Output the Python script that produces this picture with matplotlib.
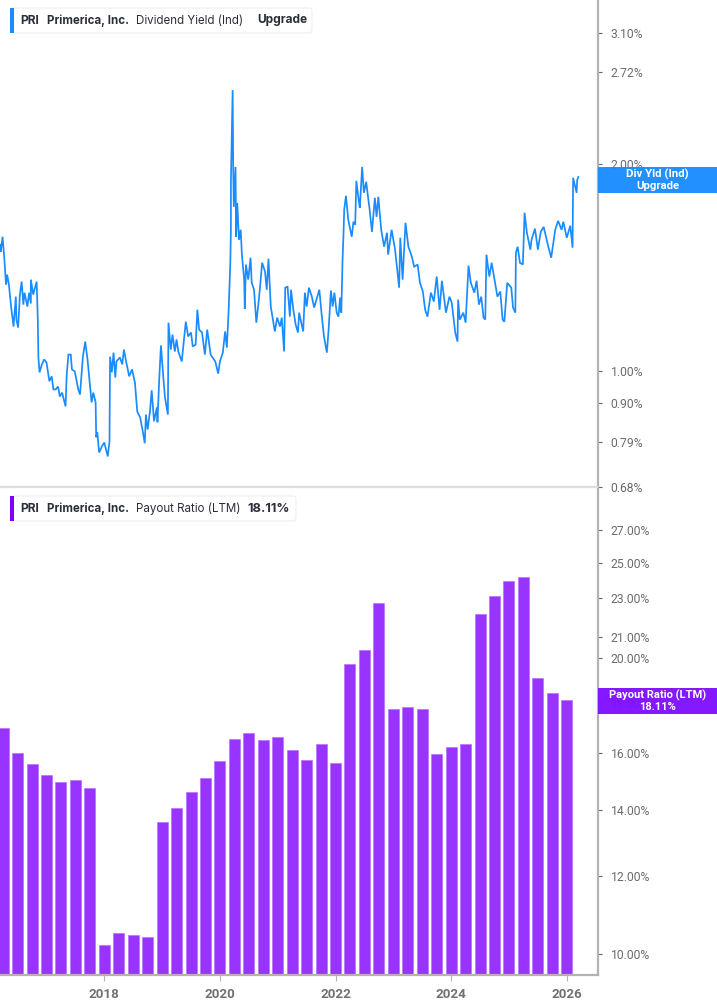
import matplotlib
matplotlib.use("Agg")
import matplotlib.pyplot as plt
from matplotlib.patches import FancyBboxPatch, Rectangle

W, H = 717, 1005

yield_years = [
    2016.20, 2016.21, 2016.24, 2016.27, 2016.30, 2016.32, 2016.35, 2016.39, 2016.43, 2016.47,
    2016.48, 2016.51, 2016.54, 2016.57, 2016.60, 2016.62, 2016.67, 2016.70, 2016.73, 2016.73,
    2016.77, 2016.83, 2016.85, 2016.86, 2016.88, 2016.92, 2016.96, 2017.00, 2017.05, 2017.09,
    2017.12, 2017.16, 2017.20, 2017.23, 2017.27, 2017.33, 2017.35, 2017.38, 2017.42, 2017.44,
    2017.49, 2017.55, 2017.58, 2017.61, 2017.63, 2017.67, 2017.71, 2017.74, 2017.78, 2017.81,
    2017.85, 2017.86, 2017.88, 2017.91, 2017.96, 2018.00, 2018.03, 2018.06, 2018.09, 2018.10,
    2018.13, 2018.16, 2018.19, 2018.21, 2018.27, 2018.31, 2018.34, 2018.38, 2018.40, 2018.43,
    2018.48, 2018.53, 2018.57, 2018.62, 2018.66, 2018.70, 2018.72, 2018.75, 2018.79, 2018.82,
    2018.86, 2018.91, 2018.92, 2018.95, 2018.98, 2019.02, 2019.05, 2019.10, 2019.11, 2019.15,
    2019.18, 2019.22, 2019.25, 2019.28, 2019.34, 2019.41, 2019.45, 2019.50, 2019.53, 2019.58,
    2019.61, 2019.64, 2019.69, 2019.74, 2019.78, 2019.84, 2019.92, 2019.97, 2020.00, 2020.05,
    2020.09, 2020.12, 2020.15, 2020.18, 2020.19, 2020.19, 2020.22, 2020.23, 2020.24, 2020.27,
    2020.28, 2020.30, 2020.33, 2020.36, 2020.38, 2020.42, 2020.43, 2020.45, 2020.49, 2020.53,
    2020.55, 2020.59, 2020.63, 2020.67, 2020.69, 2020.73, 2020.78, 2020.81, 2020.84, 2020.88,
    2020.95, 2020.99, 2021.04, 2021.07, 2021.11, 2021.13, 2021.17, 2021.21, 2021.23, 2021.27,
    2021.31, 2021.35, 2021.37, 2021.44, 2021.47, 2021.50, 2021.54, 2021.59, 2021.63, 2021.67,
    2021.72, 2021.76, 2021.80, 2021.85, 2021.88, 2021.92, 2021.95, 2021.98, 2022.02, 2022.05,
    2022.08, 2022.10, 2022.12, 2022.14, 2022.15, 2022.18, 2022.22, 2022.28, 2022.31, 2022.34,
    2022.36, 2022.40, 2022.42, 2022.46, 2022.49, 2022.53, 2022.59, 2022.63, 2022.68, 2022.71,
    2022.74, 2022.79, 2022.84, 2022.89, 2022.91, 2022.97, 2023.03, 2023.10, 2023.12, 2023.16,
    2023.21, 2023.26, 2023.32, 2023.36, 2023.42, 2023.46, 2023.51, 2023.55, 2023.59, 2023.65,
    2023.70, 2023.75, 2023.80, 2023.84, 2023.91, 2023.97, 2024.01, 2024.07, 2024.11, 2024.12,
    2024.15, 2024.21, 2024.25, 2024.30, 2024.34, 2024.40, 2024.44, 2024.48, 2024.52, 2024.56,
    2024.59, 2024.61, 2024.66, 2024.70, 2024.76, 2024.80, 2024.85, 2024.89, 2024.92, 2024.97,
    2025.04, 2025.07, 2025.11, 2025.12, 2025.15, 2025.19, 2025.24, 2025.27, 2025.31, 2025.37,
    2025.39, 2025.45, 2025.50, 2025.55, 2025.60, 2025.68, 2025.73, 2025.80, 2025.85, 2025.91,
    2025.94, 2026.00, 2026.06, 2026.10, 2026.11, 2026.15, 2026.17, 2026.18, 2026.20,
]
yield_values = [
    1.527, 1.492, 1.568, 1.462, 1.336, 1.382, 1.336, 1.238, 1.162, 1.284,
    1.189, 1.158, 1.293, 1.350, 1.250, 1.301, 1.242, 1.301, 1.255, 1.359,
    1.293, 1.350, 1.189, 1.048, 0.997, 1.024, 1.041, 1.031, 0.968, 0.984,
    0.942, 0.942, 0.951, 0.920, 0.932, 0.890, 0.990, 1.058, 1.058, 1.007,
    1.000, 0.942, 0.926, 0.997, 1.051, 1.105, 1.041, 0.980, 0.902, 0.932,
    0.902, 0.803, 0.816, 0.763, 0.779, 0.789, 0.771, 0.753, 0.792, 1.051,
    0.997, 1.065, 0.980, 1.034, 1.048, 1.024, 1.076, 1.031, 1.013, 0.984,
    1.007, 0.964, 0.875, 0.858, 0.824, 0.787, 0.866, 0.824, 0.875, 0.939,
    0.847, 0.887, 0.844, 0.974, 1.091, 0.984, 0.917, 0.866, 1.177, 1.076,
    1.131, 1.069, 1.113, 1.069, 1.034, 1.181, 1.124, 1.139, 1.087, 1.094,
    1.229, 1.150, 1.139, 1.058, 1.150, 1.058, 1.034, 0.993, 1.034, 1.065,
    1.143, 1.083, 1.221, 1.438, 1.605, 1.878, 2.559, 1.980, 1.733, 1.980,
    1.568, 1.756, 1.552, 1.605, 1.477, 1.359, 1.233, 1.429, 1.359, 1.462,
    1.345, 1.314, 1.177, 1.263, 1.314, 1.438, 1.396, 1.314, 1.457, 1.242,
    1.143, 1.197, 1.162, 1.197, 1.069, 1.323, 1.327, 1.201, 1.314, 1.229,
    1.170, 1.139, 1.217, 1.143, 1.301, 1.242, 1.323, 1.284, 1.238, 1.271,
    1.314, 1.209, 1.124, 1.065, 1.150, 1.310, 1.242, 1.301, 1.217, 1.201,
    1.280, 1.217, 1.438, 1.605, 1.716, 1.798, 1.660, 1.568, 1.649, 1.632,
    1.890, 1.774, 1.727, 1.980, 1.816, 1.884, 1.716, 1.594, 1.786, 1.676,
    1.792, 1.605, 1.517, 1.589, 1.477, 1.605, 1.502, 1.323, 1.563, 1.359,
    1.643, 1.517, 1.467, 1.419, 1.429, 1.345, 1.306, 1.229, 1.201, 1.301,
    1.263, 1.373, 1.229, 1.354, 1.217, 1.284, 1.259, 1.139, 1.105, 1.271,
    1.189, 1.217, 1.177, 1.424, 1.345, 1.301, 1.354, 1.250, 1.284, 1.197,
    1.189, 1.477, 1.373, 1.438, 1.345, 1.284, 1.306, 1.189, 1.181, 1.345,
    1.323, 1.238, 1.217, 1.487, 1.517, 1.438, 1.429, 1.699, 1.589, 1.502,
    1.552, 1.611, 1.502, 1.594, 1.621, 1.517, 1.462, 1.605, 1.654, 1.605,
    1.649, 1.563, 1.627, 1.512, 1.909, 1.846, 1.816, 1.896, 1.915,
]

payout_years = [
    2016.25, 2016.5, 2016.75, 2017.0, 2017.25, 2017.5, 2017.75, 2018.0,
    2018.25, 2018.5, 2018.75, 2019.0, 2019.25, 2019.5, 2019.75, 2020.0,
    2020.25, 2020.5, 2020.75, 2021.0, 2021.25, 2021.5, 2021.75, 2022.0,
    2022.25, 2022.5, 2022.75, 2023.0, 2023.25, 2023.5, 2023.75, 2024.0,
    2024.25, 2024.5, 2024.75, 2025.0, 2025.25, 2025.5, 2025.75, 2026.0,
]
payout_values = [
    16.98, 16.01, 15.60, 15.21, 14.96, 15.03, 14.75, 10.21,
    10.50, 10.46, 10.41, 13.62, 14.08, 14.61, 15.10, 15.71,
    16.55, 16.78, 16.51, 16.62, 16.12, 15.75, 16.35, 15.64,
    19.72, 20.38, 22.75, 17.75, 17.83, 17.75, 15.97, 16.24,
    16.35, 22.17, 23.12, 23.95, 24.18, 19.08, 18.42, 18.11,
]

yield_ticks = [0.68, 0.79, 0.90, 1.00, 2.00, 2.72, 3.10]
payout_ticks = [10, 12, 14, 16, 18, 20, 21, 23, 25, 27]
year_ticks = [2018, 2020, 2022, 2024, 2026]

BLUE = "#1a8cff"
BLUE_TAG = "#1a8cff"
PURPLE = "#9933ff"
PURPLE_TAG = "#8010ff"
AXIS = "#b3b3b3"
TICK_TEXT = "#6b6b6b"
DARK = "#2a2e39"
UI_FONT = ["Inter", "Roboto", "DejaVu Sans"]


def fx(px):
    return px / W


def fy(py):
    return 1 - py / H


def make_axes(top, bottom):
    ax = fig.add_axes([0, fy(bottom), fx(598), (bottom - top) / H])
    ax.set_yscale("log")
    ax.set_xlim(2016.196, 2026.54)
    for s in ["left", "top"]:
        ax.spines[s].set_visible(False)
    ax.spines["right"].set_color(AXIS)
    ax.spines["right"].set_linewidth(1.6)
    ax.yaxis.tick_right()
    ax.tick_params(axis="y", which="both", length=3, width=0.8, color="#666666", labelcolor=TICK_TEXT,
                   labelsize=8.7, pad=6, direction="out")
    return ax


def header(top, right, parts, color):
    box = FancyBboxPatch((fx(11), fy(top + 25)), fx(right - 11), 25 / H,
                         boxstyle="round,pad=0,rounding_size=0.004", transform=fig.transFigure,
                         facecolor="white", edgecolor="#eeeeee", linewidth=0.8, zorder=5)
    fig.add_artist(box)
    fig.add_artist(Rectangle((fx(10), fy(top + 25)), fx(4), 25 / H, transform=fig.transFigure,
                             facecolor=color, edgecolor="none", zorder=6))
    for x, text, weight, size in parts:
        fig.text(fx(x), fy(top + 12.5), text, fontsize=size, fontweight=weight, color=DARK,
                 family=UI_FONT, va="center", ha="left", zorder=7)


def tag(top, bottom, lines, color, size):
    fig.add_artist(Rectangle((fx(598), fy(bottom)), fx(119), (bottom - top) / H, transform=fig.transFigure,
                             facecolor=color, edgecolor="none", alpha=0.97, zorder=5))
    mid = (top + bottom) / 2
    fig.text(fx(657.5), fy(mid - 5.2), lines[0], fontsize=size, fontweight="bold", color="white",
             family=["Roboto", "DejaVu Sans"], ha="center", va="center", zorder=6)
    fig.text(fx(657.5), fy(mid + 5.6), lines[1], fontsize=size, fontweight="bold", color="white",
             family=["Roboto", "DejaVu Sans"], ha="center", va="center", zorder=6)


plt.rcParams["font.family"] = ["Roboto", "DejaVu Sans"]
fig = plt.figure(figsize=(W / 100, H / 100), dpi=100, facecolor="white")

# top panel, dividend yield
ax1 = make_axes(0, 487)
ax1.plot(yield_years, yield_values, color=BLUE, linewidth=1.25, solid_joinstyle="miter")
ax1.set_ylim(0.68, 3.457)
ax1.set_yticks(yield_ticks)
ax1.set_yticklabels([f"{t:.2f}%" for t in yield_ticks])
ax1.minorticks_off()
ax1.set_xticks([])
ax1.spines["bottom"].set_visible(False)

# bottom panel, payout ratio
ax2 = make_axes(487, 975)
ax2.bar(payout_years, payout_values, width=0.19, color=PURPLE, edgecolor="#b673ff", linewidth=0.5)
ax2.set_ylim(9.52, 29.85)
ax2.set_yticks(payout_ticks)
ax2.set_yticklabels([f"{t:.2f}%" for t in payout_ticks])
ax2.minorticks_off()
ax2.set_xticks(year_ticks)
ax2.set_xticklabels([str(y) for y in year_ticks], fontsize=9.6, fontweight="bold", color="#707070")
ax2.tick_params(axis="x", length=4, width=0.8, color=AXIS, pad=5)
ax2.spines["bottom"].set_color(AXIS)
ax2.spines["bottom"].set_linewidth(1.6)

# line between the panels, stops at the axis
fig.add_artist(plt.Line2D([0, fx(597)], [fy(487), fy(487)], color="#dedede", linewidth=1.6, zorder=4))

header(8, 312, [(20, "PRI", "bold", 8.6), (47, "Primerica, Inc.", "bold", 8.3),
                (136, "Dividend Yield (Ind)", "normal", 8.3), (257, "Upgrade", "bold", 8.6)], BLUE)
header(496, 296, [(20, "PRI", "bold", 8.6), (47, "Primerica, Inc.", "bold", 8.3),
                  (136, "Payout Ratio (LTM)", "normal", 8.3), (247, "18.11%", "bold", 9.3)], "#8000ff")

tag(167, 193, ["Div Yld (Ind)", "Upgrade"], BLUE_TAG, 8.2)
tag(688, 714, ["Payout Ratio (LTM)", "18.11%"], PURPLE_TAG, 8.0)

fig.savefig("out.png", dpi=100)
